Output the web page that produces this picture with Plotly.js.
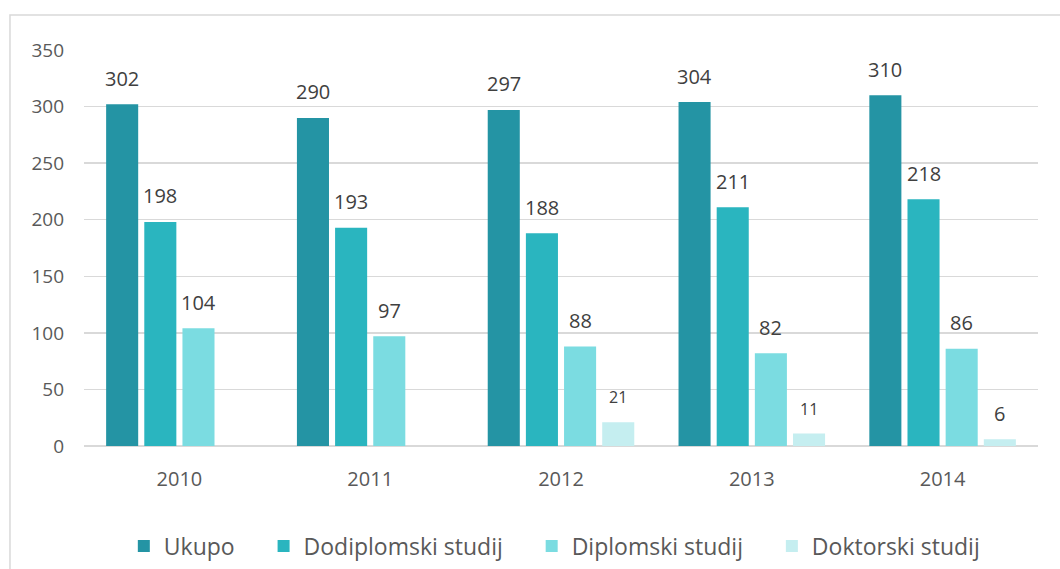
<!DOCTYPE html>
<html><head><meta charset="utf-8">
<script src="https://cdn.plot.ly/plotly-3.0.1.min.js"></script>
<style>html,body{margin:0;padding:0;background:#fff}#c{width:1060px;height:569px}</style>
</head><body><div id="c"></div>
<script>
var years = ['2010','2011','2012','2013','2014'];
var seriesNames = ['Ukupo','Dodiplomski studij','Diplomski studij','Doktorski studij'];
var ukupo = [302, 290, 297, 304, 310];
var dodiplomski = [198, 193, 188, 211, 218];
var diplomski = [104, 97, 88, 82, 86];
var doktorski = [null, null, 21, 11, 6];
var yTicks = [0, 50, 100, 150, 200, 250, 300, 350];

var colors = ['#2494a4', '#2ab5bf', '#7bdce1', '#c5eef0'];
var allSeries = [ukupo, dodiplomski, diplomski, doktorski];
var pad = '\u00a0\u00a0\u00a0\u00a0';

var traces = allSeries.map(function(vals, i){
  return {type:'bar', x: years, y: vals,
    name: seriesNames[i] + (i < allSeries.length - 1 ? pad : ''),
    marker:{color: colors[i]}, hoverinfo:'none'};
});

var bargap = 0.2, groupgap = 0.16;
var nS = allSeries.length;
var annotations = [];
allSeries.forEach(function(vals, i){
  vals.forEach(function(v, j){
    if (v === null) return;
    var slot = (1 - bargap) / nS;
    var off = -(1 - bargap)/2 + slot*(i + 0.5);
    var small = (i === 3 && v > 9);
    annotations.push({x: j + off, y: v, xref:'x', yref:'y', text: String(v),
      showarrow:false, yanchor:'middle', yshift: small ? 25 : 26,
      font:{size: small ? 16 : 20, color:'#404040'}});
  });
});

var layout = {
  width:1060, height:569,
  margin:{l:84, r:22, t:50, b:123, autoexpand:false},
  paper_bgcolor:'#fff', plot_bgcolor:'#fff',
  font:{family:'Open Sans, sans-serif', color:'#595959', size:18},
  barmode:'group', bargap: bargap, bargroupgap: groupgap,
  showlegend:true,
  legend:{orientation:'h', x:0.493, xanchor:'center', y:-0.2525, yanchor:'middle',
    font:{size:23, color:'#595959'}, traceorder:'normal'},
  xaxis:{type:'category', showgrid:false, zeroline:false, showline:false, ticks:'',
    ticklabelstandoff:19, tickfont:{size:20, color:'#595959'}},
  yaxis:{range:[0,350], tickvals:yTicks, showgrid:true, gridcolor:'#d9d9d9', gridwidth:1.5,
    zeroline:true, zerolinecolor:'#d9d9d9', zerolinewidth:2, showline:false, ticks:'',
    ticklabelstandoff:19, tickfont:{size:19, color:'#595959'}},
  annotations: annotations,
  shapes:[{type:'rect', xref:'paper', yref:'paper', x0:-0.0776, x1:1.03, y0:-0.33, y1:1.0884,
    line:{color:'#d9d9d9', width:1.5}, fillcolor:'rgba(0,0,0,0)', layer:'below'}]
};

Plotly.newPlot('c', traces, layout, {displayModeBar:false, staticPlot:true});
</script></body></html>
